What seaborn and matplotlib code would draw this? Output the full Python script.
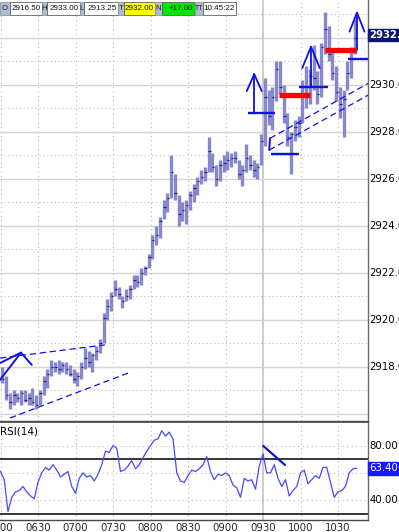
import numpy as np
import pandas as pd
import matplotlib
matplotlib.use("Agg")
import matplotlib.pyplot as plt
import seaborn as sns
from matplotlib.patches import Rectangle

sns.set_theme(style="white")
plt.rcParams["font.family"] = ["DejaVu Sans"]

# ---------------- data ----------------
bar_high = [2918.0, 2917.6, 2916.9, 2917.0, 2916.9, 2917.0, 2917.0, 2916.9, 2917.1, 2916.8,
            2917.0, 2917.6, 2917.9, 2918.3, 2918.2, 2918.3, 2918.2, 2918.2, 2918.1, 2917.9,
            2917.8, 2918.2, 2918.8, 2918.7, 2918.6, 2918.9, 2919.2, 2920.3, 2920.9, 2921.2,
            2921.7, 2921.4, 2921.0, 2921.3, 2921.5, 2921.9, 2921.9, 2922.2, 2922.3, 2922.8,
            2923.6, 2924.0, 2924.4, 2925.1, 2925.4, 2927.0, 2926.2, 2925.3, 2925.0, 2925.1,
            2925.5, 2925.8, 2926.1, 2926.4, 2926.5, 2927.8, 2927.1, 2926.6, 2926.8, 2927.0,
            2927.2, 2927.1, 2927.2, 2926.8, 2926.6, 2927.5, 2927.0, 2926.8, 2926.7, 2927.9,
            2930.3, 2929.8, 2929.9, 2931.0, 2931.0, 2930.0, 2928.8, 2928.0, 2928.5, 2928.7,
            2930.2, 2930.8, 2930.7, 2931.7, 2930.6, 2931.8, 2933.1, 2932.5, 2931.5, 2930.8,
            2929.9, 2929.8, 2931.0, 2931.6, 2932.8]
bar_low = [2917.3, 2916.6, 2916.2, 2916.4, 2916.5, 2916.4, 2916.5, 2916.4, 2916.4, 2916.2,
           2916.4, 2916.8, 2917.1, 2917.6, 2917.8, 2917.7, 2917.8, 2917.7, 2917.6, 2917.3,
           2917.2, 2917.5, 2917.9, 2918.0, 2917.8, 2918.3, 2918.6, 2919.0, 2920.0, 2920.4,
           2921.0, 2920.9, 2920.5, 2920.8, 2920.9, 2921.3, 2921.4, 2921.5, 2921.9, 2922.2,
           2922.6, 2923.2, 2923.5, 2924.3, 2924.6, 2925.2, 2925.1, 2924.0, 2924.2, 2924.1,
           2924.7, 2925.0, 2925.3, 2925.8, 2925.9, 2926.3, 2926.3, 2925.7, 2925.9, 2926.3,
           2926.4, 2926.5, 2926.7, 2926.0, 2925.7, 2926.3, 2926.4, 2926.1, 2926.0, 2926.6,
           2927.4, 2928.3, 2928.1, 2929.3, 2929.6, 2928.4, 2927.4, 2926.2, 2927.6, 2927.8,
           2928.4, 2929.0, 2929.2, 2929.8, 2929.2, 2929.5, 2931.3, 2931.0, 2930.2, 2929.3,
           2928.6, 2927.8, 2929.8, 2930.3, 2931.3]
bar_close = [2917.5, 2916.8, 2916.5, 2916.8, 2916.7, 2916.9, 2916.6, 2916.7, 2916.5, 2916.4,
             2916.9, 2917.4, 2917.7, 2918.0, 2918.0, 2917.9, 2918.1, 2917.9, 2917.7, 2917.5,
             2917.6, 2918.0, 2918.4, 2918.2, 2918.5, 2918.7, 2919.0, 2920.1, 2920.6, 2921.0,
             2921.3, 2921.1, 2920.8, 2921.0, 2921.3, 2921.7, 2921.6, 2922.0, 2922.2, 2922.7,
             2923.4, 2923.6, 2924.2, 2924.8, 2925.2, 2926.3, 2925.4, 2924.5, 2924.7, 2924.9,
             2925.3, 2925.6, 2925.9, 2926.1, 2926.3, 2927.2, 2926.5, 2926.0, 2926.6, 2926.7,
             2926.8, 2926.9, 2926.9, 2926.2, 2926.4, 2926.9, 2926.6, 2926.4, 2926.5, 2927.6,
             2929.5, 2928.7, 2929.5, 2930.7, 2929.9, 2928.7, 2927.8, 2927.9, 2928.2, 2928.4,
             2929.9, 2929.6, 2930.4, 2930.3, 2929.6, 2931.6, 2932.4, 2931.3, 2930.5, 2929.7,
             2929.2, 2929.4, 2930.5, 2931.4, 2932.0]
bar_times = pd.date_range("2024-01-01 06:00", periods=len(bar_close), freq="3min")

rsi_values = [61, 55, 31.5, 42, 46, 47, 50, 46, 43, 41,
              53, 60, 64, 62, 66, 62, 57, 59, 61, 50,
              45, 56, 60, 57, 58, 54, 59, 66, 76, 75,
              80, 78, 61, 62, 65, 69, 63, 66, 71, 76,
              80, 84, 85, 91, 87, 90, 85, 60, 54, 53,
              58, 62, 61, 63, 66, 72, 61, 55, 59, 58,
              60, 58, 51, 49, 42, 56, 54, 55, 48, 65,
              74, 60, 60, 66, 56, 50, 55, 43, 47, 50,
              60, 62, 52, 55, 58, 56, 64, 64, 53, 42,
              46, 47, 50, 60, 63, 63.4]
rsi_times = pd.date_range("2024-01-01 06:00", periods=len(rsi_values), freq="3min")

header_labels = ["O", "H", "L", "T", "N", "TT"]
header_values = ["2916.50", "2933.00", "2913.25", "2932.00", "+17.00", "10:45:22"]
price_ticks = [2918, 2920, 2922, 2924, 2926, 2928, 2930]
last_price = 2932.00
rsi_ticks = [40, 60, 80]
rsi_levels = [70, 30]
last_rsi = 63.40
time_labels = ["0600", "0630", "0700", "0730", "0800", "0830", "0900", "0930", "1000", "1030"]

# drawn annotations, (minutes after 06:00, price)
dashed_lines = [[(-0.4, 2918.38), (83.6, 2918.94)],
                [(7.6, 2915.83), (102.0, 2917.74)],
                [(215.6, 2927.73), (294.2, 2930.07)],
                [(215.0, 2927.23), (294.2, 2929.57)]]
solid_blue_lines = [[(-0.4, 2918.17), (16.4, 2918.61)],
                    [(-0.4, 2917.45), (16.4, 2918.61), (25.0, 2918.09)],
                    [(215.0, 2927.23), (215.6, 2927.73)]]
blue_levels = [(197.6, 219.6, 2928.80), (216.4, 238.8, 2927.06),
               (239.0, 261.8, 2929.93), (278.0, 294.0, 2931.11)]
red_levels = [(223.0, 247.6, 2929.57), (259.6, 284.4, 2931.49)]
arrows = [  # base time, base price, tip price, chevron half-width (min), chevron drop (price)
    (203.0, 2928.80, 2930.46, 6.0, 0.72),
    (248.4, 2929.93, 2931.63, 7.0, 0.91),
    (285.2, 2931.49, 2933.08, 6.0, 0.81),
]
rsi_trend = [(210.2, 79.8), (227.6, 65.8)]

# ---------------- figure ----------------
W, H = 399, 532
fig = plt.figure(figsize=(W / 100, H / 100), dpi=100)
fig.patch.set_facecolor("white")

def fx(px):
    return px / W

def fy(py):
    return 1 - py / H

ax = fig.add_axes([0, fy(421), fx(368), fy(0) - fy(421)])
ax2 = fig.add_axes([0, fy(519.5), fx(368), fy(422) - fy(519.5)])

t0 = bar_times[0]
bar_min = np.array([(t - t0).total_seconds() / 60 for t in bar_times])
rsi_min = np.array([(t - t0).total_seconds() / 60 for t in rsi_times])
df = pd.DataFrame({"t": bar_min + 1.5, "high": bar_high, "low": bar_low, "close": bar_close})
rsi_df = pd.DataFrame({"t": rsi_min, "rsi": rsi_values})

xlim = (-0.4, 294.0)
for a in (ax, ax2):
    a.set_xlim(*xlim)
    a.set_facecolor("white")
    for s in a.spines.values():
        s.set_visible(False)
    a.spines["right"].set_visible(True)
    a.spines["right"].set_color("#6a6a6a")
    a.spines["right"].set_linewidth(1.0)
    a.spines["bottom"].set_visible(True)
    a.spines["bottom"].set_color("#4a4a4a")
    a.spines["bottom"].set_linewidth(1.0)
    for m in range(0, 300, 30):
        if m == 210:
            a.axvline(m, color="#c8c8c8", lw=1.3, zorder=0)
        else:
            a.axvline(m, color="#b4b4b4", lw=0.8, ls=(0, (1, 3)), zorder=0)
ax2.spines["top"].set_visible(True)
ax2.spines["top"].set_color("#4a4a4a")

# main panel grid
ax.set_ylim(2915.702, 2933.617)
for p in range(2916, 2934):
    if p % 2 == 0:
        ax.axhline(p, color="#d4d4d4", lw=1.0, zorder=0)
    else:
        ax.axhline(p, color="#b8b8b8", lw=0.7, ls=(0, (1, 3)), zorder=0)

# price bars
ax.vlines(df["t"], df["low"], df["high"], color="#8888cc", lw=2.4, zorder=2)
ax.hlines(df["close"], df["t"] - 0.5, df["t"] + 1.5, color="#22228e", lw=0.9, zorder=3)

# annotations
for seg in dashed_lines:
    xs, ys = zip(*seg)
    ax.plot(xs, ys, color="#1010e8", lw=0.9, ls=(0, (5, 3)), zorder=4)
for seg in solid_blue_lines:
    xs, ys = zip(*seg)
    ax.plot(xs, ys, color="#1010e8", lw=1.4, zorder=4)
for x1, x2, p in blue_levels:
    ax.plot([x1, x2], [p, p], color="#1010e8", lw=1.7, zorder=4, solid_capstyle="butt")
for x1, x2, p in red_levels:
    ax.plot([x1, x2], [p, p], color="#ff0000", lw=3.8, zorder=5, solid_capstyle="butt")
for xb, pb, pt, hw, dp in arrows:
    ax.plot([xb, xb], [pb, pt], color="#1010e8", lw=1.3, zorder=4)
    ax.plot([xb - hw, xb, xb + hw], [pt - dp, pt, pt - dp], color="#1010e8", lw=1.3, zorder=4)

ax.set_xticks([])
ax.set_yticks([])
ax.set_ylabel("")
ax.set_xlabel("")

# price axis labels
for p in price_ticks:
    ax.text(1.004, p, f"{p:.1f}", transform=ax.get_yaxis_transform(), ha="left",
            va="center", fontsize=7.3, color="black", clip_on=False)
ax.text(1.004, last_price + 0.12, f"{last_price:.1f}", transform=ax.get_yaxis_transform(),
        ha="left", va="center", fontsize=7.3, color="white", fontweight="bold", clip_on=False,
        bbox=dict(boxstyle="square,pad=0.12", fc="#0b1470", ec="#0b1470"))

# RSI panel
ax2.set_ylim(25.7, 97.4)
for r in rsi_ticks:
    ax2.axhline(r, color="#b8b8b8", lw=0.8, ls=(0, (1, 3)), zorder=0)
for r in rsi_levels:
    ax2.axhline(r, color="black", lw=1.1, zorder=1)
sns.lineplot(data=rsi_df, x="t", y="rsi", ax=ax2, color="#4848ff", lw=0.9, zorder=3)
xs, ys = zip(*rsi_trend)
ax2.plot(xs, ys, color="#1010d8", lw=1.6, zorder=4)
ax2.set_ylabel("")
ax2.set_xlabel("")
ax2.set_yticks([])
ax2.set_xticks(list(range(0, 300, 30)))
ax2.set_xticklabels(time_labels, fontsize=7.3)
ax2.tick_params(axis="x", length=0, pad=2.5)
for r in rsi_ticks:
    ax2.text(1.004, r, f"{r:.2f}", transform=ax2.get_yaxis_transform(), ha="left",
             va="center", fontsize=7.3, color="black", clip_on=False)
ax2.text(1.004, last_rsi, f"{last_rsi:.2f}", transform=ax2.get_yaxis_transform(),
         ha="left", va="center", fontsize=7.3, color="white", clip_on=False,
         bbox=dict(boxstyle="square,pad=0.15", fc="#1818ff", ec="#1818ff"))
ax2.text(0.0, 0.9, "RSI(14)", transform=ax2.transAxes, ha="left", va="center",
         fontsize=7.5, color="black")

# header boxes
label_boxes = [(0, 10), (42, 47), (80, 84), (118, 124), (155, 162), (195, 203)]
value_boxes = [(10, 42), (47, 80), (84, 118), (124, 155), (162, 195), (203, 236)]
value_colors = ["white", "white", "white", "#ffff00", "#00e600", "white"]
y_top, y_bot = 2, 15
for (l1, l2), (v1, v2), lab, val, col in zip(label_boxes, value_boxes, header_labels,
                                              header_values, value_colors):
    fig.add_artist(Rectangle((fx(l1), fy(y_bot)), fx(l2 - l1), fy(y_top) - fy(y_bot),
                             transform=fig.transFigure, fc="#aebbd0", ec="#8a96a8", lw=0.6))
    fig.text(fx((l1 + l2) / 2), fy((y_top + y_bot) / 2), lab, ha="center", va="center",
             fontsize=5.0 if len(lab) > 1 else 5.6, color="#202020",
             family=["Liberation Sans", "DejaVu Sans"])
    fig.add_artist(Rectangle((fx(v1), fy(y_bot)), fx(v2 - v1), fy(y_top) - fy(y_bot),
                             transform=fig.transFigure, fc=col, ec="#606060", lw=0.6))
    fig.text(fx(v2 - 1.5), fy((y_top + y_bot) / 2), val, ha="right", va="center",
             fontsize=5.8, color="#101010", family=["Liberation Sans", "DejaVu Sans"])

fig.savefig("out.png", dpi=100, facecolor="white")
